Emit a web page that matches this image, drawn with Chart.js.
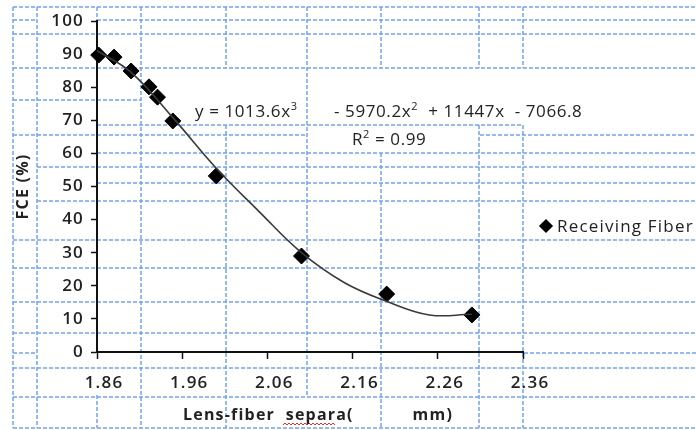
<!DOCTYPE html>
<html lang="en">
<head>
<meta charset="UTF-8">
<title>FCE vs lens-fiber separation</title>
<script src="https://cdn.jsdelivr.net/npm/chart.js"></script>
<style>
  html, body { margin: 0; padding: 0; background: #fff; }
  #wrap { position: relative; width: 696px; height: 430px; overflow: hidden; font-family: "Open Sans", sans-serif; color: #222; }
  canvas { position: absolute; left: 0; top: 0; }
  .note { position: absolute; font-size: 17px; line-height: 1; white-space: pre; letter-spacing: 0.6px; }
  .note sup { font-size: 11px; vertical-align: 7px; line-height: 0; }
  #legend { position: absolute; left: 541px; top: 217px; font-size: 17px; line-height: 1; white-space: nowrap; letter-spacing: 1.2px; }
  #legend .mk { display: inline-block; width: 10px; height: 10px; background: #000; transform: rotate(45deg); margin-right: 6px; vertical-align: 1px; }
</style>
</head>
<body>
<div id="wrap">
  <canvas id="fce" width="696" height="430"></canvas>
  <div class="note" style="left:195px; top:102px">y = 1013.6x<sup>3</sup></div>
  <div class="note" style="left:334px; top:102px">- 5970.2x<sup>2</sup>  + 11447x  - 7066.8</div>
  <div class="note" style="left:352px; top:130px">R<sup>2</sup> = 0.99</div>
  <div id="legend"><span class="mk"></span>Receiving Fiber</div>
</div>

<script>
  // measured points (mm, %)
  const separation = [1.862, 1.88, 1.90, 1.921, 1.931, 1.949, 2.00, 2.10, 2.20, 2.30];
  const fce = [89.7, 89.1, 84.9, 80.1, 77.0, 69.8, 53.2, 29.0, 17.5, 11.2];

  // polynomial trendline
  const trendX = [1.86, 1.90, 1.95, 2.00, 2.05, 2.10, 2.15, 2.20, 2.25, 2.30];
  const trendY = [91, 84.5, 70.5, 55.5, 42.5, 30, 21, 15.3, 11.2, 11.4];

  const xTicks = [1.86, 1.96, 2.06, 2.16, 2.26, 2.36];

  // spreadsheet cell borders behind the chart: [y, x1, x2] and [x, y1, y2]
  const sheetRows = [
    [7, 13, 696], [20, 13, 35], [20, 97, 696], [34, 13, 696], [68, 13, 696],
    [100, 13, 141], [125, 97, 523], [135, 13, 307], [135, 480, 696],
    [153, 97, 696], [167, 37, 696], [183, 97, 696], [201, 37, 696],
    [240, 13, 696], [268, 13, 696], [302, 13, 696], [333, 13, 696],
    [353, 13, 37], [353, 524, 696], [368, 13, 696], [397, 13, 696], [428, 13, 696]
  ];
  const sheetCols = [
    [13, 7, 428], [37, 7, 428], [97, 7, 34], [97, 395, 428], [141, 7, 428],
    [226, 7, 68], [226, 125, 428], [307, 7, 397], [381, 7, 68], [381, 153, 428],
    [479, 7, 68], [479, 125, 428], [523, 7, 68], [523, 125, 428]
  ];

  const sheetGrid = {
    id: 'sheetGrid',
    beforeDraw(chart) {
      const ctx = chart.ctx;
      ctx.save();
      ctx.fillStyle = '#fff';
      ctx.fillRect(0, 0, chart.width, chart.height);
      ctx.strokeStyle = '#74a3ea';
      ctx.lineWidth = 1.5;
      ctx.setLineDash([4, 2]);
      ctx.beginPath();
      sheetRows.forEach(([y, a, b]) => { ctx.moveTo(a, y); ctx.lineTo(b, y); });
      sheetCols.forEach(([x, a, b]) => { ctx.moveTo(x, a); ctx.lineTo(x, b); });
      ctx.stroke();
      // spell-check squiggle under "separa"
      ctx.setLineDash([]);
      ctx.strokeStyle = '#e03030';
      ctx.lineWidth = 1;
      ctx.beginPath();
      for (let x = 283; x <= 336; x += 2) ctx.lineTo(x, (x % 4 === 1) ? 423 : 425);
      ctx.stroke();
      ctx.restore();
      // the original text is rendered a bit wide
      ctx.letterSpacing = '1.2px';
    }
  };

  const tickFont = { family: 'Open Sans', size: 17, weight: '600' };

  new Chart(document.getElementById('fce'), {
    type: 'scatter',
    data: {
      datasets: [
        {
          label: 'Poly. (Receiving Fiber)',
          data: trendX.map((x, i) => ({ x, y: trendY[i] })),
          showLine: true,
          tension: 0.4,
          borderColor: '#3a3a3a',
          borderWidth: 1.6,
          pointRadius: 0
        },
        {
          label: 'Receiving Fiber',
          data: separation.map((x, i) => ({ x, y: fce[i] })),
          pointStyle: 'rectRot',
          pointRadius: 8,
          pointHoverRadius: 8,
          backgroundColor: '#000',
          borderColor: '#000',
          clip: false
        }
      ]
    },
    options: {
      responsive: false,
      animation: false,
      layout: { padding: { top: 21, right: 173, left: 0, bottom: 0 } },
      plugins: { legend: { display: false }, tooltip: { enabled: false } },
      scales: {
        x: {
          type: 'linear',
          min: 1.86,
          max: 2.36,
          afterBuildTicks: s => { s.ticks = xTicks.map(v => ({ value: v })); },
          afterFit: s => { s.height = 78; },
          grid: { drawOnChartArea: false, tickLength: 7, tickColor: '#111', tickWidth: 1.5 },
          border: { color: '#111', width: 2 },
          ticks: { callback: v => v.toFixed(2), padding: 14, labelOffset: 7, color: '#222', font: tickFont, maxRotation: 0 },
          title: {
            display: true,
            text: '   Lens-fiber  separa(           mm)',
            color: '#222',
            padding: { top: 0, bottom: 5 },
            font: { family: 'Open Sans', size: 16, weight: 'bold' }
          }
        },
        y: {
          min: 0,
          max: 100,
          afterFit: s => { s.width = 97; },
          grid: { drawOnChartArea: false, tickLength: 6, tickColor: '#111', tickWidth: 1.5 },
          border: { color: '#111', width: 2 },
          ticks: { stepSize: 10, padding: 7, color: '#222', font: tickFont },
          title: {
            display: true,
            text: 'FCE (%)',
            color: '#222',
            padding: { top: 14 },
            font: { family: 'Open Sans', size: 16, weight: 'bold' }
          }
        }
      }
    },
    plugins: [sheetGrid]
  });
</script>
</body>
</html>
